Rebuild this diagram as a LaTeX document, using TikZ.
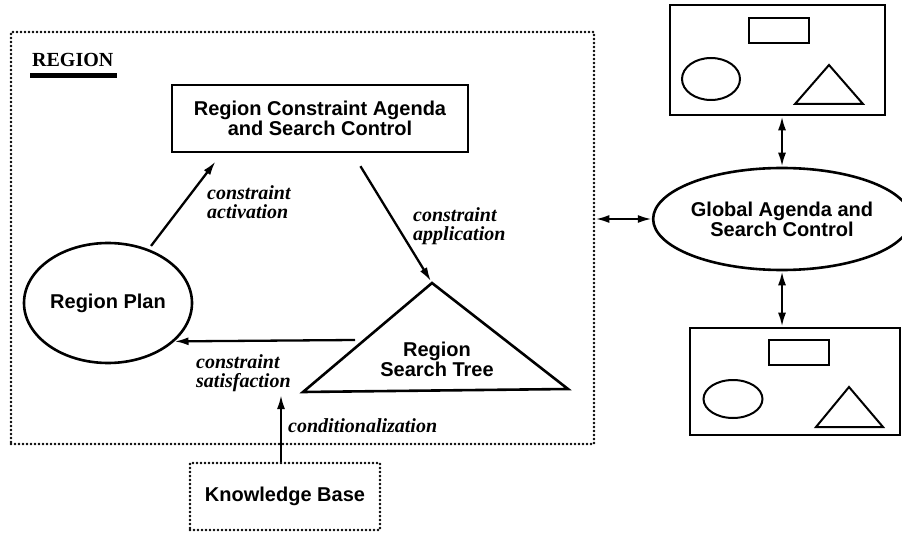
\documentclass[tikz,border=0pt]{standalone}
\usepackage{fontspec}
\setmainfont{Liberation Serif}
\newfontfamily\hel{Liberation Sans}
\usetikzlibrary{shapes.geometric,arrows.meta,calc}
\begin{document}
\begin{tikzpicture}[x=1pt,y=-1pt,
  solidline/.style={line width=2.6pt},
  dotbox/.style={draw, line width=2.7pt, dash pattern=on 0pt off 4pt, line cap=round, inner sep=0pt},
  boldsans/.style={font=\hel\bfseries\fontsize{20}{20}\selectfont, align=center},
  lbl/.style={font=\bfseries\itshape\fontsize{20}{19.5}\selectfont, align=left, inner sep=0pt},
  arr/.style={line width=2.3pt, -{Latex[length=14pt,width=8pt]}},
  darr/.style={line width=2.3pt, {Latex[length=14pt,width=8pt]}-{Latex[length=14pt,width=8pt]}},
  thinshape/.style={draw, line width=2pt, inner sep=0pt}
]
\useasboundingbox (0,0) rectangle (902,537);

% Region frame
\node[dotbox, minimum width=583pt, minimum height=412pt] (region) at (302.5,238) {};
\node[font=\bfseries\fontsize{20}{20}\selectfont, anchor=base west, inner sep=0pt] (reglbl) at (32,67) {REGION};
\draw[line width=4.5pt] ($(reglbl.base west)+(-2,8.5)$) -- ($(reglbl.base east)+(3,8.5)$);

% Region constraint agenda box
\node[draw, line width=2.8pt, boldsans, minimum width=296pt, minimum height=67pt, inner sep=0pt] (rcab) at (320,118.5) {Region Constraint Agenda\\and Search Control};

% Region plan
\node[draw, ellipse, solidline, minimum width=168pt, minimum height=120pt, inner sep=0pt, boldsans] (plan) at (108,303) {Region Plan};

% Region search tree
\coordinate (treetop) at (432,283);
\coordinate (treebl) at (303,392);
\coordinate (treebr) at (568,389);
\draw[solidline, line join=miter] (treetop) -- (treebl) -- (treebr) -- cycle;
\node[boldsans, inner sep=0pt] (tree) at (437,359) {Region\\Search Tree};

% Knowledge base
\node[dotbox, boldsans, minimum width=190pt, minimum height=67pt] (kb) at (285,496.5) {Knowledge Base};

% Arrows inside region
\draw[arr, shorten <=4pt] (plan.53) -- ($(rcab.south west)+(45,8)$);
\draw[arr, shorten <=15pt, shorten >=2pt] ($(rcab.south west)+(182,0)$) -- (treetop);
\coordinate (satstart) at (355,340);
\draw[arr] (satstart) -- (plan.-30);
\coordinate (condtip) at (281,395);
\draw[arr] (kb.north -| condtip) -- (condtip);

% Labels
\node[lbl, anchor=west] (lact) at (207,202) {constraint\\activation};
\node[lbl, anchor=west] (lapp) at (413,226) {constraint\\application};
\node[lbl, anchor=west] (lsat) at (196,373) {constraint\\satisfaction};
\node[lbl, anchor=base west] (lcond) at (288,432) {conditionalization};

% Global agenda
\node[draw, ellipse, solidline, boldsans, minimum width=220pt, minimum height=102pt, inner sep=0pt] (global) at (782,219) {Global Agenda and\\Search Control};
\draw[darr] (region.east |- global.west) -- (global.west);

% Top component box
\node[draw, solidline, minimum width=215pt, minimum height=110pt] (topbox) at (777.5,60) {};
\node[thinshape, minimum width=60pt, minimum height=25pt] (toprect) at (779,30.5) {};
\node[thinshape, ellipse, minimum width=58pt, minimum height=42pt] (topell) at (711,79) {};
\draw[line width=2pt, line join=miter] (829,65) -- (795,104) -- (863,104) -- cycle;

% Bottom component box
\node[draw, solidline, minimum width=210pt, minimum height=107pt] (botbox) at (795,381.5) {};
\node[thinshape, minimum width=60pt, minimum height=25pt] (botrect) at (799,352.5) {};
\node[thinshape, ellipse, minimum width=59pt, minimum height=38pt] (botell) at (733,399) {};
\draw[line width=2pt, line join=miter] (849,387) -- (816,427) -- (883,427) -- cycle;

\draw[darr] (global.north) -- (global.north |- topbox.south);
\draw[darr] (global.south) -- (global.south |- botbox.north);
\end{tikzpicture}
\end{document}
